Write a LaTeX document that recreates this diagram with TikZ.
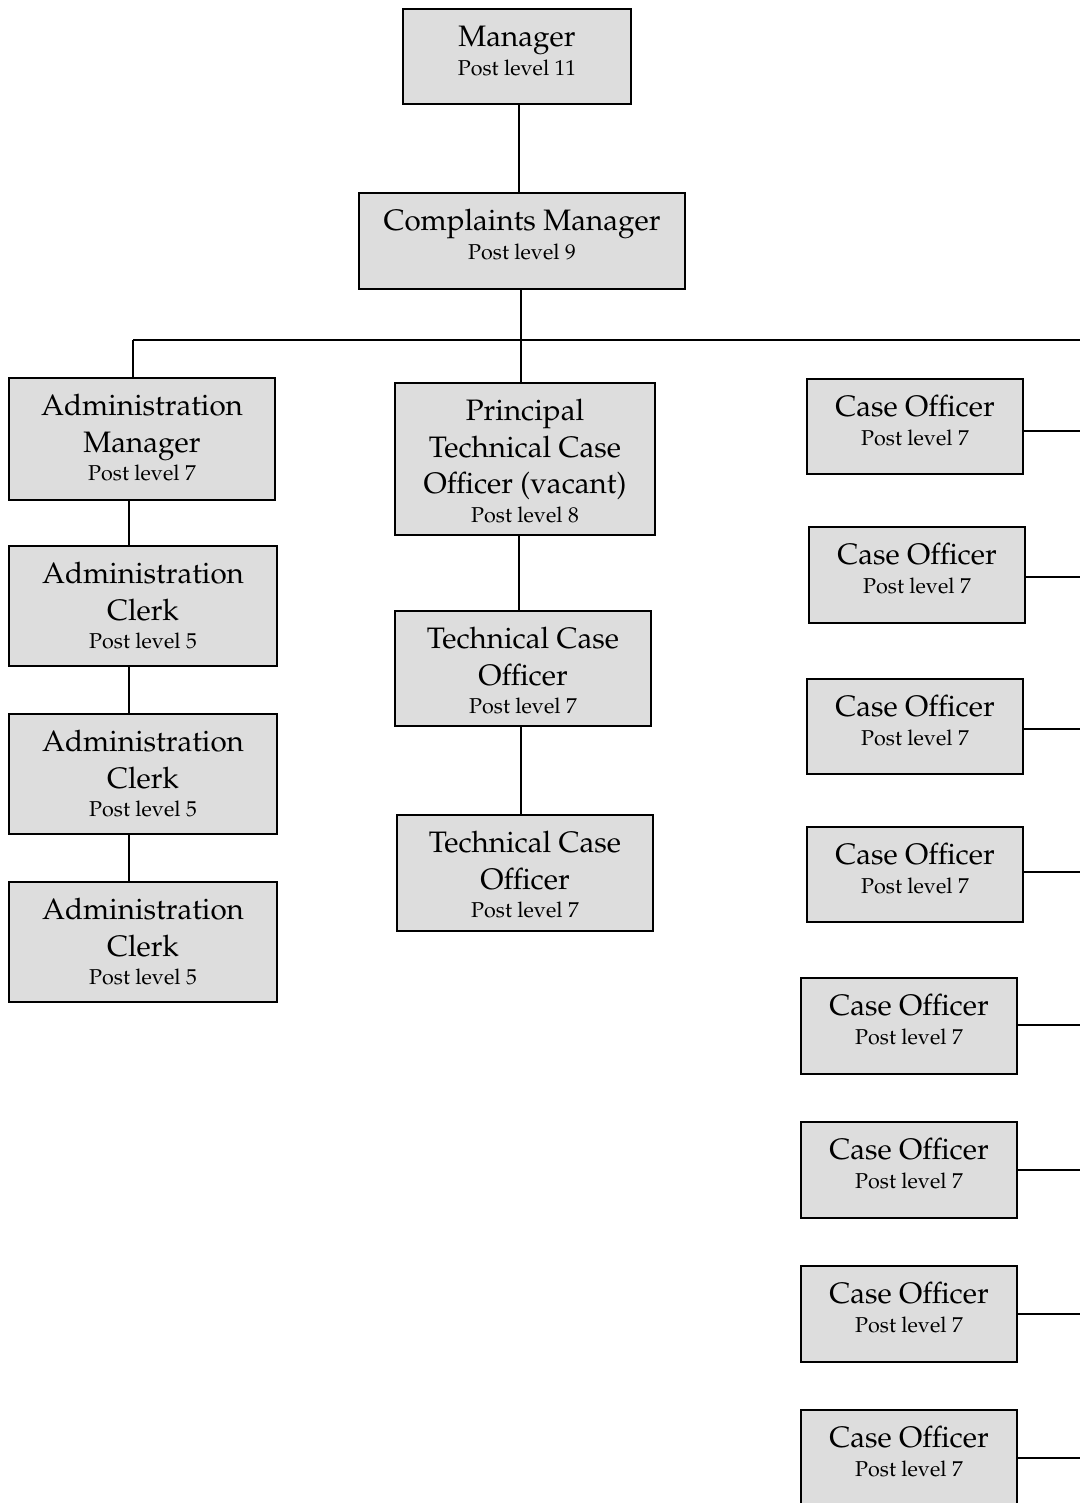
\documentclass[tikz,border=0pt]{standalone}
\usepackage[T1]{fontenc}
\usepackage{mathpazo}
\definecolor{boxgray}{HTML}{DDDDDD}
\newlength{\unitlen}
\setlength{\unitlen}{0.0139cm}
\newcommand{\orgtext}[4]{\begin{minipage}[c][#2\unitlen][t]{#1\unitlen}\centering
  \fontsize{11.7}{14.4}\selectfont\rule{0pt}{15pt}#3\\[-3.1pt]
  {\fontsize{8.5}{10}\selectfont Post level #4}\end{minipage}}
\tikzset{
  box/.style={draw,fill=boxgray,line width=0.8pt,inner sep=0pt},
  link/.style={line width=0.8pt}
}
\begin{document}
\begin{tikzpicture}[x=0.0139cm,y=-0.0139cm]
    \useasboundingbox (0,0) rectangle (1080,1503);
    \clip (0,0) rectangle (1080,1503);

    \node[box] (mgr) at (517,56.5) {\orgtext{228}{95}{Manager}{11}};
    \node[box] (cm) at (522,241) {\orgtext{326}{96}{Complaints Manager}{9}};

    \node[box] (am) at (142,439) {\orgtext{266}{122}{Administration\\Manager}{7}};
    \node[box] (ac1) at (143,606) {\orgtext{268}{120}{Administration\\Clerk}{5}};
    \node[box] (ac2) at (143,774) {\orgtext{268}{120}{Administration\\Clerk}{5}};
    \node[box] (ac3) at (143,942) {\orgtext{268}{120}{Administration\\Clerk}{5}};

    \node[box] (ptco) at (525,459) {\orgtext{260}{152}{Principal\\Technical Case\\Officer (vacant)}{8}};
    \node[box] (tco1) at (523,668.5) {\orgtext{256}{115}{Technical Case\\Officer}{7}};
    \node[box] (tco2) at (525,873) {\orgtext{256}{116}{Technical Case\\Officer}{7}};

    \node[box] (co1) at (915,426.5) {\orgtext{216}{95}{Case Officer}{7}};
    \node[box] (co2) at (917,575) {\orgtext{216}{96}{Case Officer}{7}};
    \node[box] (co3) at (915,726.5) {\orgtext{216}{95}{Case Officer}{7}};
    \node[box] (co4) at (915,874.5) {\orgtext{216}{95}{Case Officer}{7}};
    \node[box] (co5) at (909,1026) {\orgtext{216}{96}{Case Officer}{7}};
    \node[box] (co6) at (909,1170) {\orgtext{216}{96}{Case Officer}{7}};
    \node[box] (co7) at (909,1314) {\orgtext{216}{96}{Case Officer}{7}};
    \node[box] (co8) at (909,1458) {\orgtext{216}{96}{Case Officer}{7}};

    \coordinate (busL) at (133,340);
    \coordinate (busR) at (1080,340);
    \coordinate (admcol) at (129,0);
    \coordinate (edge) at (1080,0);

    \draw[link] ([xshift=2\unitlen]mgr.south) -- ([xshift=2\unitlen]mgr.south |- cm.north);
    \draw[link] ([xshift=-1\unitlen]cm.south) -- ([xshift=-1\unitlen]cm.south |- busL);
    \draw[link] (busL) -- (busR);
    \draw[link] (busL) -- (busL |- am.north);
    \draw[link] ([xshift=-1\unitlen]cm.south |- busL) -- ([xshift=-1\unitlen]cm.south |- ptco.north);

    \draw[link] (am.south -| admcol) -- (ac1.north -| admcol);
    \draw[link] (ac1.south -| admcol) -- (ac2.north -| admcol);
    \draw[link] (ac2.south -| admcol) -- (ac3.north -| admcol);

    \draw[link] ([xshift=-4\unitlen]tco1.north |- ptco.south) -- ([xshift=-4\unitlen]tco1.north);
    \draw[link] ([xshift=-2\unitlen]tco1.south) -- ([xshift=-2\unitlen]tco1.south |- tco2.north);

    \foreach \i/\d in {1/-4.5,2/-2,3/-2.5,4/2.5,5/1,6/0,7/0,8/0}
        \draw[link] ([yshift=\d\unitlen]co\i.east) -- ([yshift=\d\unitlen]co\i.east -| edge);
\end{tikzpicture}
\end{document}
